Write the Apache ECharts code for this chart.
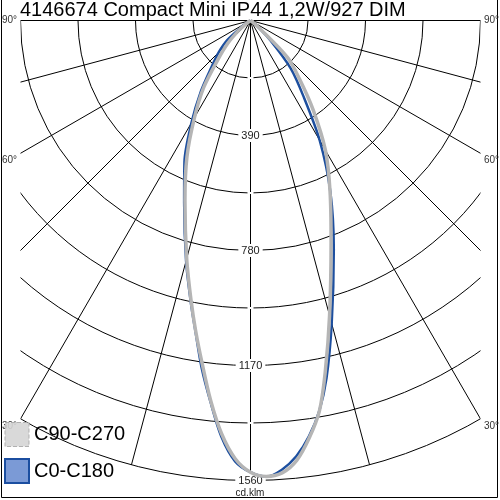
<!DOCTYPE html>
<html>
<head>
<meta charset="utf-8">
<script src="https://cdn.jsdelivr.net/npm/echarts@6/dist/echarts.min.js"></script>
<style>
  html, body { margin: 0; padding: 0; background: #fff; }
  #chart { width: 500px; height: 500px; }
</style>
</head>
<body>
<div id="chart"></div>
<script>
// gamma = angle from nadir (deg), intensities in cd/klm
var gammas = [0, 2, 4, 6, 8, 10, 12, 15, 20, 25, 30, 35, 40, 45, 50, 55, 60, 70, 80, 90];
var c0   = [1532, 1548, 1527, 1486, 1424, 1344, 1240, 1064, 826, 641, 469, 312, 212, 95, 30, 5, 0, 0, 0, 0];
var c180 = [1532, 1496, 1415, 1300, 1190, 1073, 975, 844, 658, 530, 400, 293, 205, 152, 102, 30, 5, 0, 0, 0];
var c90  = [1532, 1547, 1538, 1500, 1430, 1345, 1219, 1036, 799, 638, 508, 371, 258, 178, 35, 5, 0, 0, 0, 0];
var c270 = [1532, 1487, 1405, 1295, 1176, 1070, 970, 836, 650, 510, 380, 276, 170, 108, 52, 15, 0, 0, 0, 0];

var ringLabels = [390, 780, 1170, 1560];
var angleLabels = ['90°', '60°', '30°'];
var angleLabelAt = [90, 60, 30];

var FONT = 'Liberation Sans, Arial, sans-serif';
var cx = 250.5, cy = 20.5, halfW = 230;

// right half uses angle 360-gamma, left half uses gamma
function halfCurve(right, left) {
  var pts = [];
  for (var i = gammas.length - 1; i >= 0; i--) {
    if (right[i] === 0 && i > 0 && right[i - 1] === 0) continue;
    pts.push([right[i], 360 - gammas[i]]);
  }
  for (var j = 1; j < gammas.length; j++) {
    pts.push([left[j], gammas[j]]);
    if (left[j] === 0) break;
  }
  return pts;
}

var graphics = [
  // clip the grid to the plot box
  { type: 'rect', z: 2, shape: { x: 0, y: 0, width: 500, height: 20 }, style: { fill: '#fff' } },
  { type: 'rect', z: 2, shape: { x: 0, y: 0, width: 20.5, height: 500 }, style: { fill: '#fff' } },
  { type: 'rect', z: 2, shape: { x: 480.5, y: 0, width: 20, height: 500 }, style: { fill: '#fff' } },
  { type: 'polyline', z: 3, shape: { points: [[1.5, 0], [1.5, 497.5], [497.5, 497.5], [497.5, 0]] },
    style: { stroke: '#000', lineWidth: 1, fill: null } },
  { type: 'text', z: 3, left: 'center', top: 488,
    style: { text: 'cd.klm', fontSize: 10, fontFamily: FONT, fill: '#222' } }
];
angleLabels.forEach(function (t, i) {
  var a = angleLabelAt[i];
  var y = a === 90 ? cy : cy + halfW / Math.tan(a * Math.PI / 180) + 7;
  graphics.push({ type: 'text', z: 3, x: 2, y: y,
    style: { text: t, fontSize: 10, fontFamily: FONT, fill: '#333', verticalAlign: 'middle' } });
  graphics.push({ type: 'text', z: 3, x: 484, y: y,
    style: { text: t, fontSize: 10, fontFamily: FONT, fill: '#333', verticalAlign: 'middle' } });
});

var chart = echarts.init(document.getElementById('chart'));
chart.setOption({
  animation: false,
  backgroundColor: '#fff',
  title: {
    text: '4146674 Compact Mini IP44 1,2W/927 DIM',
    left: 20, top: 0, padding: 0,
    textStyle: { fontSize: 20, fontWeight: 'normal', color: '#000', fontFamily: FONT }
  },
  legend: {
    orient: 'vertical', left: 4, top: 422, padding: 0,
    itemWidth: 24, itemHeight: 24, itemGap: 11,
    selectedMode: false,
    textStyle: { fontSize: 20, color: '#000', fontFamily: FONT },
    data: [
      { name: 'C90-C270', icon: 'rect',
        itemStyle: { color: '#d5d5d5', borderColor: '#aaaaaa', borderWidth: 1, borderType: 'dashed', opacity: 0.9 } },
      { name: 'C0-C180', icon: 'rect',
        itemStyle: { color: '#7b9ad6', borderColor: '#1b4ea0', borderWidth: 2 } }
    ]
  },
  polar: { center: [cx, cy], radius: 460 },
  angleAxis: {
    type: 'value', min: 0, max: 360, interval: 15,
    startAngle: 270, clockwise: true, z: 0,
    axisLine: { show: false }, axisTick: { show: false }, axisLabel: { show: false },
    splitLine: { lineStyle: { color: '#000', width: 1 } }
  },
  radiusAxis: {
    type: 'value', min: 0, max: 1560, interval: 195, z: 1,
    axisLine: { show: false }, axisTick: { show: false },
    splitLine: { lineStyle: { color: '#000', width: 1 } },
    axisLabel: {
      margin: 0, align: 'center', verticalAlign: 'middle',
      fontSize: 11, fontFamily: FONT, color: '#222',
      backgroundColor: '#fff', padding: [1, 3],
      formatter: function (v) { return ringLabels.indexOf(v) >= 0 ? String(v) : ''; }
    }
  },
  series: [
    {
      name: 'C0-C180', type: 'line', coordinateSystem: 'polar', z: 2,
      showSymbol: false, smooth: 0.3,
      lineStyle: { color: '#1d4f9f', width: 2.5 },
      itemStyle: { color: '#7b9ad6' },
      data: halfCurve(c0, c180)
    },
    {
      name: 'C90-C270', type: 'line', coordinateSystem: 'polar', z: 2,
      showSymbol: false, smooth: 0.3,
      lineStyle: { color: '#b5b5b5', width: 3.5 },
      itemStyle: { color: '#d5d5d5' },
      data: halfCurve(c90, c270)
    }
  ],
  graphic: graphics
});
</script>
</body>
</html>
